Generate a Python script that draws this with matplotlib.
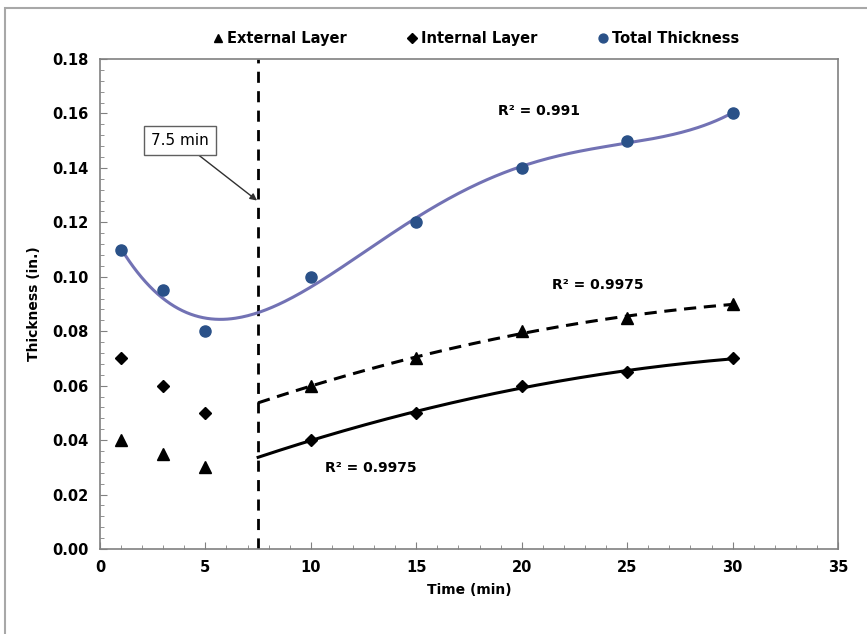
import numpy as np
import matplotlib
matplotlib.use("Agg")
import matplotlib.pyplot as plt
from matplotlib.ticker import MultipleLocator, FormatStrFormatter
from matplotlib.patches import Rectangle

time_min = [1, 3, 5, 10, 15, 20, 25, 30]
external = [0.040, 0.035, 0.030, 0.060, 0.070, 0.080, 0.085, 0.090]
internal = [0.070, 0.060, 0.050, 0.040, 0.050, 0.060, 0.065, 0.070]
total = [0.110, 0.095, 0.080, 0.100, 0.120, 0.140, 0.150, 0.160]

cutoff = 7.5
r2_total = "R² = 0.991"
r2_external = "R² = 0.9975"
r2_internal = "R² = 0.9975"

plt.rcParams["font.family"] = ["DejaVu Sans"]
plt.rcParams["font.weight"] = "bold"

fig = plt.figure(figsize=(8.67, 6.34), dpi=100)
# outer frame, cropped on the right and bottom like the source image
fig.patches.append(Rectangle((0.006, -0.05), 1.1, 1.037, transform=fig.transFigure,
                             fill=False, edgecolor="#a8a8a8", linewidth=1.5))
ax = fig.add_axes([0.1153, 0.134, 0.8513, 0.773])

t = np.array(time_min, dtype=float)

# trend lines
p_tot = np.polyfit(t, total, 4)
xs = np.linspace(1, 30, 300)
ax.plot(xs, np.polyval(p_tot, xs), color="#7272b4", lw=2.2, zorder=2)

late = t >= 10
xl = np.linspace(cutoff, 30, 200)
p_ext = np.polyfit(t[late], np.array(external)[late], 2)
ax.plot(xl, np.polyval(p_ext, xl), color="black", lw=2.2, ls=(0, (4, 2.5)), zorder=2)
p_int = np.polyfit(t[late], np.array(internal)[late], 2)
ax.plot(xl, np.polyval(p_int, xl), color="black", lw=2.2, zorder=2)

ax.plot(time_min, external, "^", color="black", ms=8, ls="none", label="External Layer", zorder=3)
ax.plot(time_min, internal, "D", color="black", ms=6, ls="none", label="Internal Layer", zorder=3)
ax.plot(time_min, total, "o", color="#2a5188", ms=8, ls="none", label="Total Thickness", zorder=3)

ax.axvline(cutoff, color="black", lw=2, ls=(0, (4, 3)), zorder=1)

ax.annotate("7.5 min", xy=(7.45, 0.128), xytext=(3.8, 0.150),
            fontsize=11, fontweight="normal", ha="center", va="center",
            bbox=dict(boxstyle="square,pad=0.45", fc="white", ec="#606060", lw=1),
            arrowprops=dict(arrowstyle="-|>", color="#303030", lw=1, mutation_scale=10,
                            shrinkA=0, shrinkB=0))

ax.text(20.8, 0.161, r2_total, fontsize=10, fontweight="bold", ha="center", va="center")
ax.text(23.6, 0.097, r2_external, fontsize=10, fontweight="bold", ha="center", va="center")
ax.text(12.85, 0.0298, r2_internal, fontsize=10, fontweight="bold", ha="center", va="center")

ax.set_xlim(0, 35)
ax.set_ylim(0, 0.18)
ax.xaxis.set_major_locator(MultipleLocator(5))
ax.xaxis.set_minor_locator(MultipleLocator(1))
ax.yaxis.set_major_locator(MultipleLocator(0.02))
ax.yaxis.set_minor_locator(MultipleLocator(0.004))
ax.yaxis.set_major_formatter(FormatStrFormatter("%.2f"))
ax.tick_params(which="both", direction="in", top=False, right=False, labelsize=10.5, pad=8,
               color="#808080")
ax.tick_params(which="major", length=5)
ax.tick_params(which="minor", length=3)
for lab in ax.get_xticklabels() + ax.get_yticklabels():
    lab.set_fontweight("bold")
for sp in ax.spines.values():
    sp.set_color("#808080")
    sp.set_linewidth(1.2)

ax.set_xlabel("Time (min)", fontsize=10, fontweight="bold", labelpad=6)
ax.set_ylabel("Thickness (in.)", fontsize=10, fontweight="bold", labelpad=8)

ax.legend(loc="lower center", bbox_to_anchor=(0.508, 1.0), ncol=3, frameon=False,
          fontsize=10.5, handletextpad=0.1, columnspacing=4.0, markerscale=0.8,
          handlelength=1.0)

fig.savefig("out.png", dpi=100)
